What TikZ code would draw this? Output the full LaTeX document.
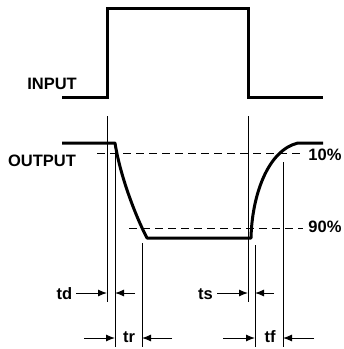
\documentclass[tikz,border=0pt]{standalone}
\usepackage{fontspec}
\setmainfont{Liberation Sans}
\usetikzlibrary{arrows.meta}
\begin{document}
\begin{tikzpicture}[
  x=1pt, y=-1pt,
  wave/.style={line width=3pt, black},
  guide/.style={line width=1pt, black},
  level/.style={line width=0.9pt, black, dash pattern=on 8pt off 5pt},
  dim/.style={line width=1pt, black, -{Latex[length=9pt,width=7pt]}},
  label/.style={font=\fontsize{16.5}{18}\selectfont\bfseries, inner sep=0pt}
]
  \useasboundingbox (0,0) rectangle (344,349);

  % ── Input pulse ─────────────────────────────────────────────────────────
  \draw[wave, line join=miter] (62,97) -- (107,97) -- (107,8) -- (248,8) -- (248,97) -- (323,97);
  \node[label] (input)  at (52,84)  {INPUT};

  % ── Output waveform ────────────────────────────────────────────────────
  \draw[wave, line join=round] (62,143) -- (115,143)
        .. controls (120,175) and (135,215) .. (147,238) -- (251,238)
        .. controls (252,195) and (268,150) .. (298,143) -- (323,143);
  \node[label] (output) at (42,161) {OUTPUT};

  % ── 10% / 90% levels ───────────────────────────────────────────────────
  \node[label] (ten)    at (325,155) {10\%};
  \node[label] (ninety) at (325,227) {90\%};
  \coordinate (tenEnd)    at (303,153);
  \coordinate (ninetyEnd) at (303,228);
  \draw[level] (97,153)  -- (tenEnd);
  \draw[level] (129,228) -- (ninetyEnd);

  % ── Reference lines ────────────────────────────────────────────────────
  \coordinate (tdL) at (107,116);  % input rise
  \coordinate (tdR) at (115,143);  % output starts to fall
  \coordinate (trR) at (142,243);  % output reaches 90%
  \coordinate (tsL) at (248,116);  % input fall
  \coordinate (tsR) at (255,245);  % output starts to rise
  \coordinate (tfR) at (283,162);  % output reaches 10%
  \draw[guide] (tdL) -- (tdL |- 0,302);
  \draw[guide] (tsL) -- (tsL |- 0,302);
  \draw[guide] (tdR) -- (tdR |- 0,347);
  \draw[guide] (trR) -- (trR |- 0,347);
  \draw[guide] (tsR) -- (tsR |- 0,347);
  \draw[guide] (tfR) -- (tfR |- 0,347);

  % ── Timing labels ──────────────────────────────────────────────────────
  \node[label] (td) at (64.5,294) {td};
  \node[label] (ts) at (205.5,294) {ts};
  \node[label] (tr) at (129,337) {tr};
  \node[label] (tf) at (270,337) {tf};

  % td
  \draw[dim] (76,293)  -- (tdL |- 0,293);
  \draw[dim] (135,293) -- (tdR |- 0,293);
  % ts
  \draw[dim] (217,293) -- (tsL |- 0,293);
  \draw[dim] (274,293) -- (tsR |- 0,293);
  % tr
  \draw[dim] (84,338)  -- (tdR |- 0,338);
  \draw[dim] (172,338) -- (trR |- 0,338);
  % tf
  \draw[dim] (223,338) -- (tsR |- 0,338);
  \draw[dim] (314,338) -- (tfR |- 0,338);
\end{tikzpicture}
\end{document}
